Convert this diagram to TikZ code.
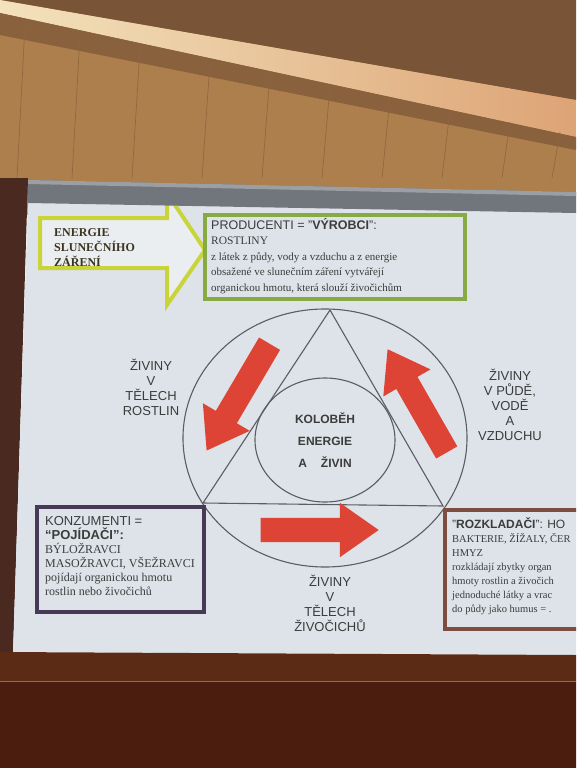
\documentclass[tikz,border=0pt]{standalone}
\usepackage{fontspec}
\setmainfont{Liberation Serif}
\setsansfont{Liberation Sans}
\usetikzlibrary{shapes.arrows,shapes.geometric}
\definecolor{woodA}{HTML}{AD7F4C}
\definecolor{woodD}{HTML}{7A5436}
\definecolor{beamL}{HTML}{F3E2BC}
\definecolor{beamR}{HTML}{DDA476}
\definecolor{wall}{HTML}{4A2A20}
\definecolor{slidebg}{HTML}{DDE3E8}
\definecolor{barc}{HTML}{70767B}
\definecolor{floorA}{HTML}{5C2B16}
\definecolor{floorB}{HTML}{4A1D0E}
\definecolor{ygreen}{HTML}{C8D43A}
\definecolor{pgreen}{HTML}{88AA42}
\definecolor{purp}{HTML}{463A56}
\definecolor{brownb}{HTML}{7C4D40}
\definecolor{redarr}{HTML}{DE4436}
\definecolor{ink}{HTML}{3C3C3C}
\definecolor{olive}{HTML}{3B3520}
\definecolor{lineg}{HTML}{5A5E62}
\begin{document}
\begin{tikzpicture}[x=1pt,y=-1pt,
  lbl/.style={font=\sffamily\fontsize{13}{15}\selectfont, text=ink, align=center, inner sep=0pt},
  boxtxt/.style={align=left, text=ink, inner sep=0pt, anchor=north west},
  boxframe/.style={draw, line width=4pt, anchor=north west, inner sep=0pt},
  cline/.style={draw=lineg, line width=1.1pt},
  redarrow/.style={single arrow, fill=redarr, inner xsep=0pt, inner ysep=12pt,
    single arrow head extend=15pt, single arrow tip angle=70},
]
\clip (0,0) rectangle (576,768);
% ceiling
\fill[woodA] (0,0) rectangle (576,215);
\fill[woodD] (0,0) -- (576,0) -- (576,100) -- cycle;
\shade[left color=beamL, right color=beamR] (0,0) -- (576,100) -- (576,137) -- (0,13) -- cycle;
\fill[woodD!70!woodA] (0,13) -- (576,137) -- (576,150) -- (0,35) -- cycle;
\foreach \xx in {25,80,140,210,270,330,390,450,510,560}
  \draw[woodD!60!woodA, line width=0.6pt] (\xx,{20+\xx*0.2}) -- (\xx-8,178);
% wall at left
\fill[wall] (0,178) -- (28,178) -- (13,655) -- (0,655) -- cycle;
% slide
\fill[slidebg] (28,200) -- (576,210) -- (576,655) -- (13,652) -- cycle;
% energy arrow
\draw[ygreen, line width=4pt, line join=miter, fill=slidebg!60!white]
  (40,218) -- (167,218) -- (167,193) -- (205,250) -- (167,305) -- (167,268) -- (40,268) -- cycle;
\node[anchor=west, align=left, inner sep=0pt, text=olive,
  font=\rmfamily\bfseries\fontsize{12}{15}\selectfont] (energie) at (54,248)
  {ENERGIE\\SLUNEČNÍHO\\ZÁŘENÍ};
% producers
\node[boxframe, draw=pgreen, fill=slidebg, minimum width=260pt, minimum height=84pt] (prod) at (203,213) {};
\node[boxtxt, font=\rmfamily\fontsize{11}{15.5}\selectfont] (prodtxt) at (211,218)
  {{\sffamily\fontsize{12.5}{15.5}\selectfont PRODUCENTI = "\textbf{VÝROBCI}":}\\
   {\fontsize{11.5}{15.5}\selectfont ROSTLINY}\\
   z látek z půdy, vody a vzduchu a z energie\\
   obsažené ve slunečním záření vytvářejí\\
   organickou hmotu, která slouží živočichům};
% cycle
\node[ellipse, cline, minimum width=284pt, minimum height=258pt, inner sep=0pt] (outer) at (325,438) {};
\coordinate (tA) at (330,310);
\coordinate (tB) at (203,503);
\coordinate (tC) at (443,506);
\draw[cline] (tA) -- (tB) -- (tC) -- cycle;
\node[ellipse, cline, minimum width=140pt, minimum height=124pt, inner sep=0pt,
  align=center, text=ink, font=\sffamily\bfseries\fontsize{12}{22}\selectfont] (inner) at (325,440)
  {KOLOBĚH\\ENERGIE\\A\hspace{14pt}ŽIVIN};
% red arrows
\node[redarrow, minimum height=124pt, rotate=239.5] (ra1) at (242.5,389.6) {};
\node[redarrow, minimum height=119pt, rotate=119.8] (ra2) at (421.5,408.4) {};
\node[redarrow, minimum height=118pt] (ra3) at (311,530) {};
% labels
\node[lbl] (rostlin) at (151,387) {ŽIVINY\\V\\TĚLECH\\ROSTLIN};
\node[lbl] (pude) at (510,405) {ŽIVINY\\V PŮDĚ,\\VODĚ\\A\\VZDUCHU};
\node[lbl] (zivoc) at (330,603) {ŽIVINY\\V\\TĚLECH\\ŽIVOČICHŮ};
% consumers
\node[boxframe, draw=purp, minimum width=167pt, minimum height=105pt] (konz) at (35,505) {};
\node[boxtxt, font=\rmfamily\fontsize{12}{14}\selectfont] (konztxt) at (45,516)
  {{\sffamily\fontsize{13}{14}\selectfont KONZUMENTI =}\\
   {\sffamily\bfseries\fontsize{13}{14}\selectfont “POJÍDAČI”:}\\
   BÝLOŽRAVCI\\
   MASOŽRAVCI, VŠEŽRAVCI\\
   pojídají organickou hmotu\\
   rostlin nebo živočichů};
% decomposers
\node[boxframe, draw=brownb, minimum width=150pt, minimum height=119pt] (rozk) at (443,508) {};
\node[boxtxt, font=\rmfamily\fontsize{10.5}{14}\selectfont] (rozktxt) at (452,518)
  {{\sffamily\fontsize{12}{14}\selectfont "\textbf{ROZKLADAČI}": HO}\\
   BAKTERIE, ŽÍŽALY, ČER\\
   HMYZ\\
   rozkládají zbytky organ\\
   hmoty rostlin a živočich\\
   jednoduché látky a vrac\\
   do půdy jako humus = .};
% screen bar
\fill[barc] (28,180) -- (576,192) -- (576,213) -- (28,203) -- cycle;
\fill[barc!70!white] (28,180) -- (576,192) -- (576,196) -- (28,184) -- cycle;
% floor / lower wall
\fill[floorA] (0,652) -- (576,655) -- (576,768) -- (0,768) -- cycle;
\fill[floorB] (0,682) rectangle (576,768);
\draw[floorA!50!beamR, line width=1pt] (0,681) -- (576,681);
\end{tikzpicture}
\end{document}
